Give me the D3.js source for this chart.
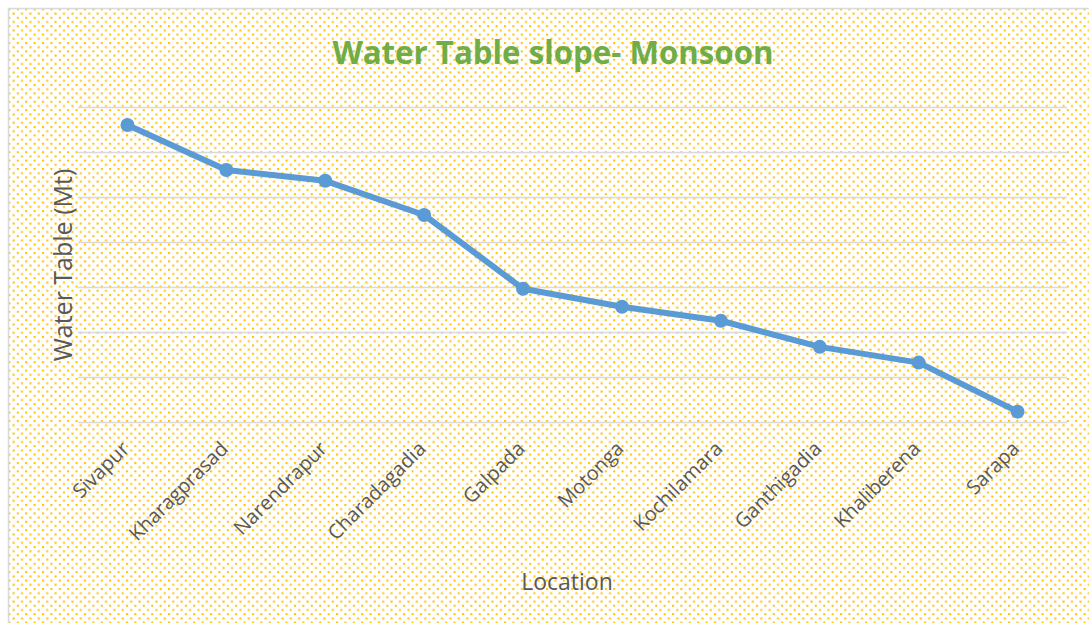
<!DOCTYPE html>
<html>
<head>
<meta charset="utf-8">
<script src="https://cdn.jsdelivr.net/npm/d3@7"></script>
<style>
  body { margin: 0; background: #fff; }
  text { font-family: "Open Sans", "Noto Sans", sans-serif; }
</style>
</head>
<body>
<div id="chart"></div>
<script>
// locations along the profile and water table readings (Mt)
const locations = ['Sivapur', 'Kharagprasad', 'Narendrapur', 'Charadagadia', 'Galpada',
  'Motonga', 'Kochilamara', 'Ganthigadia', 'Khaliberena', 'Sarapa'];
const waterTable = [6.6, 5.6, 5.36, 4.6, 2.96, 2.56, 2.25, 1.67, 1.32, 0.23];
const gridValues = [0, 1, 2, 3, 4, 5, 6, 7];

const W = 1089, H = 623;
const margin = {top: 107, left: 78, right: 22, bottom: 201};
const width = W - margin.left - margin.right,
      height = H - margin.top - margin.bottom;

const svg = d3.select('#chart').append('svg')
  .attr('width', W).attr('height', H);

// dotted fill like the spreadsheet chart area
const pat = svg.append('defs').append('pattern')
  .attr('id', 'dots')
  .attr('patternUnits', 'userSpaceOnUse')
  .attr('width', 8.4).attr('height', 8.4);
pat.append('rect').attr('width', 8.4).attr('height', 8.4).attr('fill', '#fff');
pat.append('rect').attr('x', 0).attr('y', 0).attr('width', 2).attr('height', 2)
  .attr('fill', '#FFC000');
pat.append('rect').attr('x', 4.2).attr('y', 4.2).attr('width', 2).attr('height', 2)
  .attr('fill', '#FFC000');

svg.append('rect')
  .attr('x', 8.5).attr('y', 8.5)
  .attr('width', W + 10).attr('height', H + 10)
  .attr('fill', 'url(#dots)')
  .attr('stroke', '#D9D9D9').attr('stroke-width', 1.5);

const g = svg.append('g').attr('transform', `translate(${margin.left},${margin.top})`);

const x = d3.scaleBand().domain(locations).range([0, width]);
const y = d3.scaleLinear().domain([0, 7]).range([height, 0]);

// horizontal gridlines
g.append('g')
  .call(d3.axisLeft(y).tickValues(gridValues).tickSize(-width).tickFormat(''))
  .call(s => s.select('.domain').remove())
  .call(s => s.selectAll('.tick line').attr('stroke', '#D9D9D9').attr('stroke-width', 1.5));

// category labels, rotated
g.append('g')
  .attr('transform', `translate(0,${height})`)
  .call(d3.axisBottom(x).tickSize(0))
  .call(s => s.select('.domain').remove())
  .call(s => s.selectAll('.tick text')
    .attr('fill', '#595959')
    .style('font-size', '20px')
    .attr('text-anchor', 'end')
    .attr('dy', 0)
    .attr('y', 0)
    .attr('transform', 'translate(3,28) rotate(-45)'));

const cx = d => x(d) + x.bandwidth() / 2;

const line = d3.line()
  .x((d, i) => cx(locations[i]))
  .y(d => y(d));

g.append('path')
  .datum(waterTable)
  .attr('d', line)
  .attr('fill', 'none')
  .attr('stroke', '#5B9BD5')
  .attr('stroke-width', 6)
  .attr('stroke-linejoin', 'round');

g.selectAll('.pt')
  .data(waterTable)
  .enter().append('circle')
  .attr('class', 'pt')
  .attr('cx', (d, i) => cx(locations[i]))
  .attr('cy', d => y(d))
  .attr('r', 7)
  .attr('fill', '#5B9BD5');

// title
svg.append('text')
  .attr('x', 553).attr('y', 64)
  .attr('text-anchor', 'middle')
  .attr('fill', '#70AD47')
  .style('font-size', '32px')
  .style('font-weight', 'bold')
  .attr('textLength', 441)
  .attr('lengthAdjust', 'spacingAndGlyphs')
  .text('Water Table slope- Monsoon');

// axis titles
svg.append('text')
  .attr('transform', 'translate(72,265) rotate(-90)')
  .attr('text-anchor', 'middle')
  .attr('fill', '#595959')
  .style('font-size', '25px')
  .text('Water Table (Mt)');

svg.append('text')
  .attr('x', 567).attr('y', 590)
  .attr('text-anchor', 'middle')
  .attr('fill', '#595959')
  .style('font-size', '23px')
  .text('Location');
</script>
</body>
</html>
